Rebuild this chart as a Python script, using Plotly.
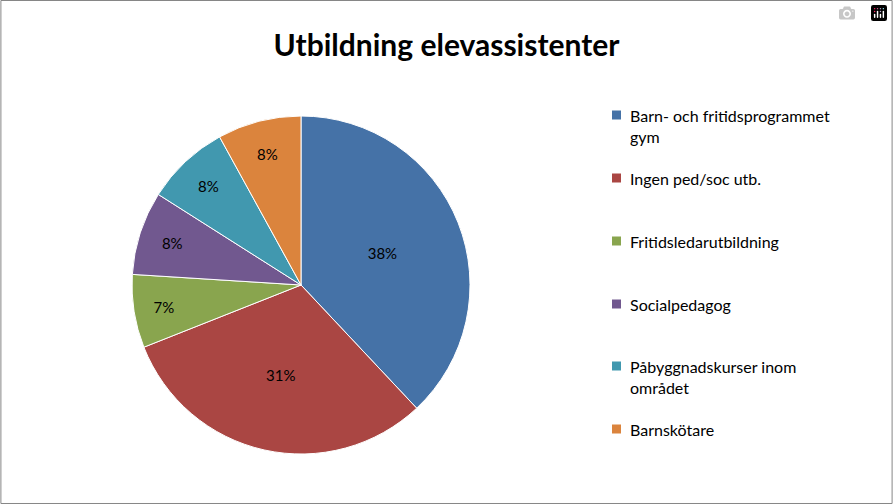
import plotly.graph_objects as go

labels = ["Barn- och fritidsprogrammet<br>gym", "Ingen ped/soc utb.", "Fritidsledarutbildning",
          "Socialpedagog", "Påbyggnadskurser inom<br>området", "Barnskötare"]
values = [38, 31, 7, 8, 8, 8]
colors = ["#4572A7", "#AA4643", "#89A54E", "#71588F", "#4198AF", "#DB843D"]
legend_y = [115, 178, 241, 304, 366, 429]  # first-line centre, px from top

W, H = 893, 504
fig = go.Figure(go.Pie(
    labels=labels, values=values, sort=False, direction="clockwise", rotation=0,
    marker=dict(colors=colors, line=dict(color="white", width=1)),
    texttemplate="%{value}%", textposition="inside", insidetextorientation="horizontal",
    textfont=dict(color="black", size=15, family="Lato"),
    domain=dict(x=[(301 - 169) / W, (301 + 169) / W], y=[1 - 454 / H, 1 - 116 / H]),
    showlegend=False, hoverinfo="label+percent",
))

for lab, col, y in zip(labels, colors, legend_y):
    fig.add_shape(type="rect", xref="paper", yref="paper",
                  x0=612 / W, x1=621 / W, y0=1 - (y + 4.5) / H, y1=1 - (y - 4.5) / H,
                  fillcolor=col, line=dict(width=0))
    fig.add_annotation(text=lab, xref="paper", yref="paper", x=628 / W, y=1 - (y - 11) / H,
                       xanchor="left", yanchor="top", showarrow=False, align="left",
                       font=dict(family="Lato", size=16, color="black"))

fig.add_shape(type="rect", xref="paper", yref="paper", x0=0.001, x1=0.999, y0=0.001, y1=0.999,
              line=dict(color="#868686", width=1))

fig.update_layout(
    width=W, height=H, margin=dict(l=0, r=0, t=0, b=0),
    paper_bgcolor="white",
    title=dict(text="<b>Utbildning elevassistenter</b>", x=0.5, xanchor="center",
               y=1 - 45 / H, yanchor="middle", font=dict(family="Lato", size=30, color="black")),
)
fig.write_html("out.html", post_script="document.body.style.margin='0';document.body.style.overflow='hidden';")
